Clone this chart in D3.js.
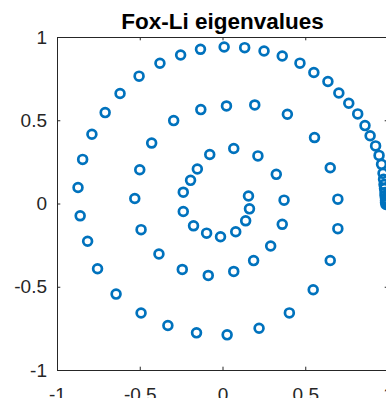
<!DOCTYPE html>
<html>
<head>
<meta charset="utf-8">
<script src="https://cdn.jsdelivr.net/npm/d3@7"></script>
<style>
  html, body { margin: 0; padding: 0; background: #fff; overflow: hidden; }
  svg { display: block; font-family: "Liberation Sans", Arial, Helvetica, sans-serif; }
</style>
</head>
<body>
<div id="chart"></div>
<script>
const title = "Fox-Li eigenvalues";
const xTicks = [-1, -0.5, 0, 0.5, 1];
const yTicks = [-1, -0.5, 0, 0.5, 1];

// eigenvalues, outer spiral first
const eigRe = [
  0.988, 0.985, 0.985, 0.985, 0.982, 0.982, 0.979, 0.976, 0.973, 0.970,
  0.961, 0.946, 0.925, 0.892, 0.861, 0.817, 0.763, 0.703, 0.637, 0.552,
  0.468, 0.361, 0.251, 0.134, 0.010, -0.133, -0.253, -0.378, -0.504, -0.619,
  -0.709, -0.789, -0.845, -0.873, -0.860, -0.815, -0.755, -0.643, -0.492, -0.330,
  -0.157, 0.028, 0.221, 0.404, 0.548, 0.651, 0.697, 0.697, 0.651, 0.556,
  0.392, 0.195, 0.024, -0.131, -0.295, -0.428, -0.500, -0.530, -0.492, -0.384,
  -0.243, -0.086, 0.068, 0.188, 0.291, 0.361, 0.372, 0.325, 0.214, 0.068,
  -0.077, -0.152, -0.193, -0.237, -0.237, -0.175, -0.096, -0.012, 0.080, 0.140,
  0.163, 0.157
];
const eigIm = [
  -0.006, 0.006, 0.018, 0.030, 0.048, 0.066, 0.090, 0.114, 0.145, 0.181,
  0.235, 0.289, 0.346, 0.407, 0.468, 0.538, 0.602, 0.664, 0.733, 0.787,
  0.843, 0.886, 0.916, 0.936, 0.940, 0.926, 0.892, 0.842, 0.765, 0.661,
  0.546, 0.416, 0.265, 0.096, -0.074, -0.227, -0.392, -0.544, -0.658, -0.733,
  -0.777, -0.789, -0.749, -0.657, -0.518, -0.342, -0.151, 0.026, 0.215, 0.396,
  0.536, 0.592, 0.586, 0.564, 0.498, 0.363, 0.203, 0.030, -0.157, -0.303,
  -0.396, -0.432, -0.408, -0.343, -0.255, -0.125, 0.020, 0.175, 0.286, 0.330,
  0.294, 0.207, 0.139, 0.068, -0.048, -0.134, -0.178, -0.200, -0.170, -0.104,
  -0.032, 0.045
];

const width = 386, height = 398;
const margin = { top: 37, left: 57, right: -2, bottom: 28 };
const axisColor = "#262626";

const svg = d3.select("#chart").append("svg")
  .attr("width", width)
  .attr("height", height);

const x = d3.scaleLinear().domain([-1, 1]).range([margin.left, width - margin.right]);
const y = d3.scaleLinear().domain([-1, 1]).range([height - margin.bottom, margin.top]);

const fmt = d => String(d);

const styleAxis = g => {
  g.select(".domain").attr("stroke", axisColor).attr("stroke-width", 1);
  g.selectAll(".tick line").attr("stroke", axisColor).attr("stroke-width", 1);
  g.selectAll(".tick text").attr("fill", axisColor).attr("font-size", 19);
};

svg.append("g")
  .attr("transform", `translate(0,${y(-1)})`)
  .call(d3.axisBottom(x).tickValues(xTicks).tickFormat(fmt).tickSizeInner(-3.3).tickSizeOuter(0).tickPadding(18))
  .call(styleAxis);

svg.append("g")
  .attr("transform", `translate(${x(-1)},0)`)
  .call(d3.axisLeft(y).tickValues(yTicks).tickFormat(fmt).tickSizeInner(-3.3).tickSizeOuter(0).tickPadding(10))
  .call(styleAxis);

svg.append("g")
  .attr("transform", `translate(0,${y(1)})`)
  .call(d3.axisTop(x).tickValues(xTicks).tickFormat("").tickSizeInner(-3.3).tickSizeOuter(0))
  .call(styleAxis);

svg.append("g")
  .attr("transform", `translate(${x(1)},0)`)
  .call(d3.axisRight(y).tickValues(yTicks).tickFormat("").tickSizeInner(-3.3).tickSizeOuter(0))
  .call(styleAxis);

const points = eigRe.map((re, i) => ({ re: re, im: eigIm[i] }));

svg.append("g")
  .selectAll("circle")
  .data(points)
  .enter().append("circle")
  .attr("cx", d => x(d.re))
  .attr("cy", d => y(d.im))
  .attr("r", 4.4)
  .attr("fill", "none")
  .attr("stroke", "#0072BD")
  .attr("stroke-width", 2.7);

svg.append("text")
  .attr("x", (x(-1) + x(1)) / 2)
  .attr("y", 29)
  .attr("text-anchor", "middle")
  .attr("font-size", 22.5)
  .attr("font-weight", "bold")
  .attr("fill", "#000")
  .text(title);
</script>
</body>
</html>
